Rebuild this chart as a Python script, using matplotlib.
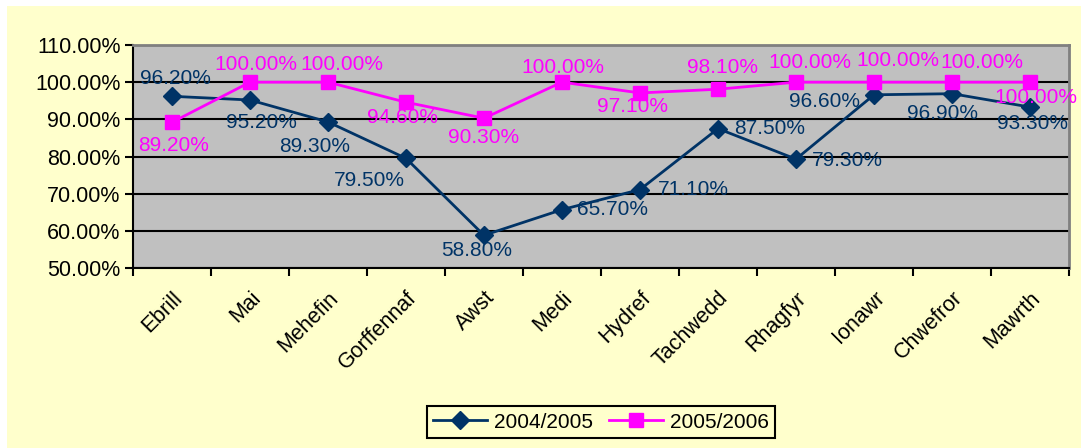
import matplotlib.pyplot as plt
from matplotlib.patches import Rectangle
from matplotlib.ticker import FixedLocator

plt.rcParams['font.family'] = ['Liberation Sans', 'DejaVu Sans']

# Data
months = ["Ebrill", "Mai", "Mehefin", "Gorffennaf", "Awst", "Medi", "Hydref",
          "Tachwedd", "Rhagfyr", "Ionawr", "Chwefror", "Mawrth"]
y0405 = [96.2, 95.2, 89.3, 79.5, 58.8, 65.7, 71.1, 87.5, 79.3, 96.6, 96.9, 93.3]
y0506 = [89.2, 100.0, 100.0, 94.6, 90.3, 100.0, 97.1, 98.1, 100.0, 100.0, 100.0, 100.0]

# label offsets (pixels) as placed in the original
off0405 = [(3, 18), (11, -22), (-13, -25), (-37, -22), (-7, -15), (51, 0),
           (53, 0), (52, 0), (51, -1), (-50, -7), (-10, -20), (2, -16)]
off0506 = [(2, -23), (6, 18), (14, 18), (-4, -15), (0, -19), (1, 15),
           (-7, -14), (5, 22), (14, 20), (24, 22), (30, 20), (6, -15)]

navy = '#003366'
pink = '#FF00FF'
bg = '#FFFFCC'

fig = plt.figure(figsize=(10.81, 4.48), dpi=100)
fig.patch.set_facecolor('white')
fig.patches.append(Rectangle((7 / 1081, 0), 1, 1 - 6 / 448, transform=fig.transFigure,
                             facecolor=bg, edgecolor='none', zorder=-10))

ax = fig.add_axes([133 / 1081, 1 - 268 / 448, (1069 - 133) / 1081, (268 - 45) / 448])
ax.set_facecolor('#C0C0C0')

x = list(range(len(months)))
ax.plot(x, y0405, '-D', color=navy, lw=2, ms=9, label='2004/2005', zorder=3)
ax.plot(x, y0506, '-s', color=pink, lw=2, ms=10, label='2005/2006', zorder=3)

for i, v in enumerate(y0405):
    ax.annotate(f"{v:.2f}%", (i, v), xytext=off0405[i], textcoords='offset pixels',
                ha='center', va='center', fontsize=15, color=navy, zorder=4)
for i, v in enumerate(y0506):
    ax.annotate(f"{v:.2f}%", (i, v), xytext=off0506[i], textcoords='offset pixels',
                ha='center', va='center', fontsize=15, color=pink, zorder=4)

ax.set_xlim(-0.5, len(months) - 0.5)
ax.set_ylim(50, 110)
ax.set_yticks(range(50, 111, 10))
ax.set_yticklabels([f"{t:.2f}%" for t in range(50, 111, 10)], fontsize=15.5)
ax.yaxis.grid(True, color='black', lw=1.5)
ax.set_axisbelow(True)

ax.set_xticks(x)
ax.set_xticklabels(months, rotation=45, ha='right', va='top', rotation_mode='anchor', fontsize=15.5)
ax.tick_params(axis='x', which='major', length=0, pad=14)
ax.xaxis.set_minor_locator(FixedLocator([i - 0.5 for i in range(len(months) + 1)]))
ax.tick_params(axis='x', which='minor', length=6, width=1.5, direction='out')
ax.tick_params(axis='y', length=6, width=1.5, direction='out', pad=3)

for s in ['left', 'bottom']:
    ax.spines[s].set_color('black')
    ax.spines[s].set_linewidth(1.5)
for s in ['top', 'right']:
    ax.spines[s].set_color('#808080')
    ax.spines[s].set_linewidth(2)

leg = fig.legend(loc='center', bbox_to_anchor=(601 / 1081, 1 - 422 / 448), ncol=2,
                 fontsize=15, frameon=True, fancybox=False, facecolor=bg, edgecolor='black',
                 framealpha=1, handlelength=2.6, columnspacing=0.8, handletextpad=0.3,
                 borderpad=0.3)
leg.get_frame().set_linewidth(1.5)

fig.savefig("out.png", dpi=100)
